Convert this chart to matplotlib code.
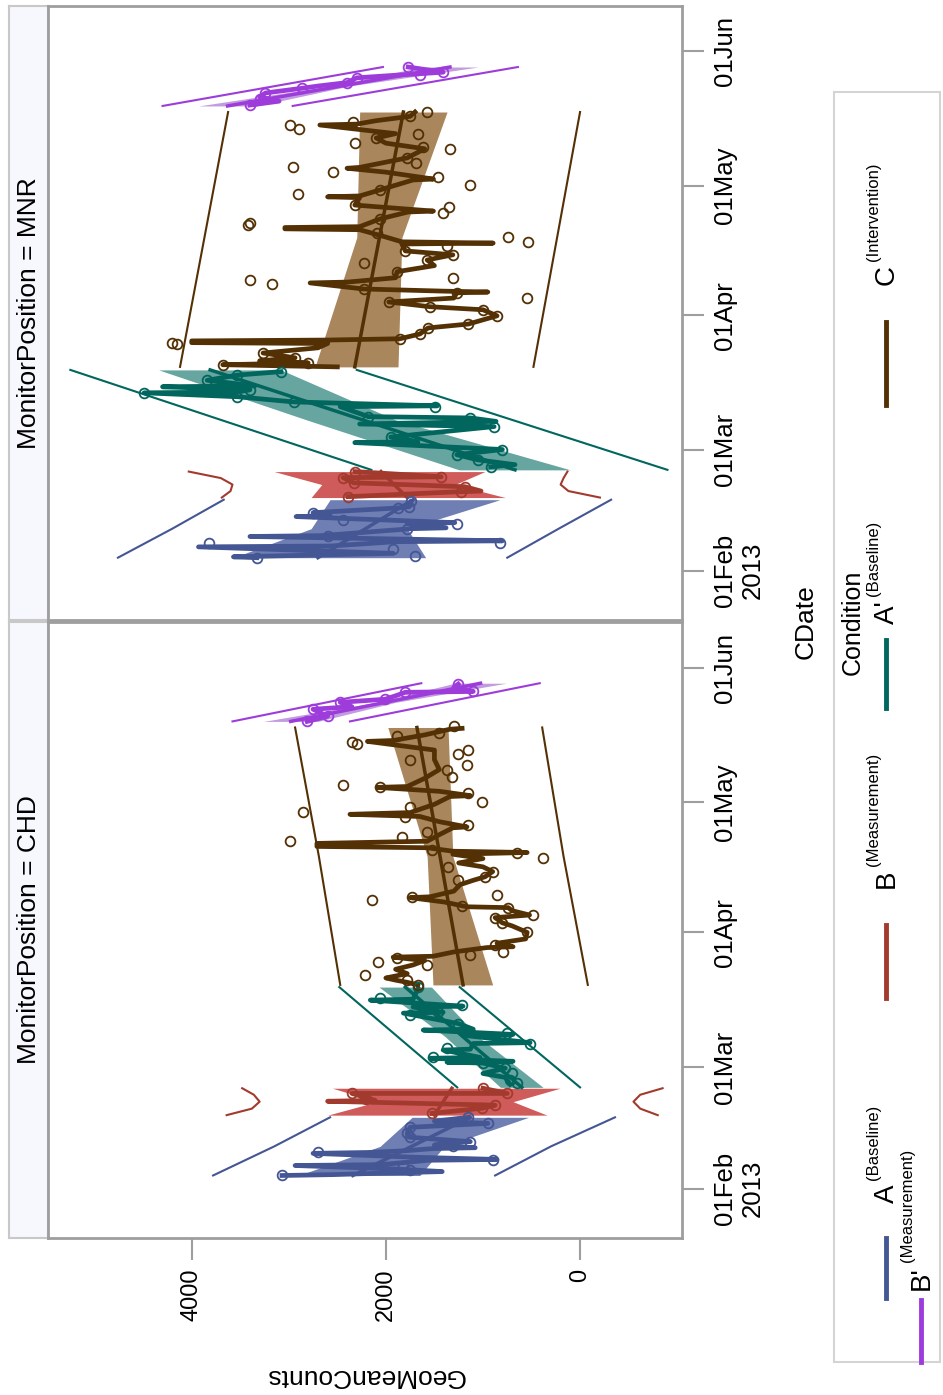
import numpy as np
import matplotlib
matplotlib.use('Agg')
import matplotlib.pyplot as plt
import matplotlib.dates as mdates
from matplotlib.lines import Line2D
from matplotlib.patches import Rectangle
import datetime as dt

plt.rcParams['font.family'] = ['Liberation Sans', 'DejaVu Sans']

# ---------------- data (day offsets from 2013-02-01, GeoMeanCounts) ----------------
tick_days = [0, 28, 59, 89, 120]
tick_labels = ['01Feb\n2013', '01Mar', '01Apr', '01May', '01Jun']
value_ticks = [0, 2000, 4000]
panels = ['MNR', 'CHD']
conditions = ['A', 'B', "A'", 'C', "B'"]
cond_notes = ['(Baseline)', '(Measurement)', '(Baseline)', '(Intervention)', '(Measurement)']
line_colors = ['#445694', '#A23A2E', '#01665E', '#543005', '#9D3CDB']
fill_colors = ['#6F7EB3', '#D05B5B', '#66A5A0', '#A9865B', '#C29BE0']

# ---- CHD ----
chd_A_fit_day = [3.0, 16.4]
chd_A_fit_val = [2340, 1130]
chd_A_ci_day = [3.0, 9.7, 16.4]
chd_A_ci_lo = [1650, 1400, 530]
chd_A_ci_hi = [2900, 2060, 1730]
chd_A_pi_day = [3.0, 9.7, 16.4]
chd_A_pi_lo = [875, 300, -360]
chd_A_pi_hi = [3780, 3150, 2575]
chd_A_pt_day = [3.0, 4.2, 5.3, 6.5, 8.3, 9.9, 10.6, 11.8, 12.7, 14.1, 15.0, 16.4]
chd_A_pt_val = [3070, 1750, 1820, 900, 2700, 1310, 1130, 1750, 1780, 1750, 950, 1150]
chd_A_ser_day = [3.0, 3.2, 3.5, 3.7, 3.9, 4.5, 5.3, 5.5, 6.0, 6.5, 6.7, 7.2, 8.1, 8.3, 8.7, 9.2, 9.4, 10.0,
                 10.6, 10.8, 11.8, 12.7, 14.1, 15.0, 15.5, 16.4]
chd_A_ser_val = [3070, 2540, 2100, 1750, 1420, 1900, 2935, 2060, 1800, 1575, 855, 1700, 2750, 2190, 1800,
                 1515, 1080, 1500, 1370, 1130, 1750, 1780, 1750, 950, 1500, 1150]

chd_B_fit_day = [16.9, 23.1]
chd_B_fit_val = [1500, 1320]
chd_B_ci_day = [16.9, 20.0, 23.1]
chd_B_ci_lo = [340, 690, 206]
chd_B_ci_hi = [2600, 2090, 2550]
chd_B_pi_day = [16.9, 18.4, 20.0, 21.6, 23.1]
chd_B_pi_lo = [-800, -620, -550, -620, -850]
chd_B_pi_hi = [3640, 3380, 3300, 3360, 3480]
chd_B_pt_day = [17.3, 18.5, 19.2, 20.6, 21.9, 21.9, 23.1]
chd_B_pt_val = [1525, 1010, 875, 2200, 2350, 750, 1000]
chd_B_ser_day = [17.3, 18.5, 19.2, 20.1, 20.3, 21.9, 21.9, 23.1]
chd_B_ser_val = [1525, 1010, 875, 2600, 2110, 2350, 750, 1000]

chd_Ap_fit_day = [23.3, 46.4]
chd_Ap_fit_val = [600, 1800]
chd_Ap_ci_day = [23.3, 35.0, 46.4]
chd_Ap_ci_lo = [380, 1050, 1530]
chd_Ap_ci_hi = [820, 1390, 2070]
chd_Ap_pi_day = [23.3, 46.4]
chd_Ap_pi_lo = [0, 1240]
chd_Ap_pi_hi = [1265, 2480]
chd_Ap_pt_day = [24.2, 25.0, 26.5, 27.7, 28.9, 30.3, 32.3, 33.4, 35.8, 38.0, 40.0, 40.6, 42.3, 44.0, 46.4]
chd_Ap_pt_val = [650, 720, 700, 770, 1000, 1515, 1370, 515, 750, 1255, 1750, 1460, 1215, 2060, 1670]
chd_Ap_ser_day = [24.0, 25.6, 26.5, 27.7, 28.9, 29.1, 29.3, 30.0, 30.2, 31.9, 32.1, 33.4, 33.6, 35.3, 35.5,
                  36.5, 36.7, 38.0, 40.4, 40.6, 41.8, 42.0, 43.4, 43.6, 46.0]
chd_Ap_ser_val = [720, 770, 1000, 770, 1000, 1370, 690, 1545, 1030, 1410, 1130, 1100, 515, 1205, 690,
                  1615, 1100, 1255, 1820, 1410, 1720, 1205, 2160, 1720, 1670]

chd_C_fit_day = [46.9, 106.2]
chd_C_fit_val = [1205, 1680]
chd_C_ci_day = [46.9, 76.5, 106.2]
chd_C_ci_lo = [900, 1310, 1360]
chd_C_ci_hi = [1515, 1575, 1980]
chd_C_pi_day = [46.9, 76.5, 106.2]
chd_C_pi_lo = [-80, 170, 390]
chd_C_pi_hi = [2470, 2690, 2935]
chd_C_pt_day = [104.2, 102.8, 102.4, 98.8, 105.0, 106.5, 101.0, 100.0, 97.5, 96.5, 94.7, 93.0, 92.4, 91.2,
                89.0, 86.8, 87.8, 85.5, 83.8, 80.0, 82.2, 81.0, 78.0, 77.4, 76.2, 74.1, 71.1, 71.8, 73.0,
                66.5, 67.2, 65.1, 67.7, 64.7, 62.4, 61.2, 63.0, 59.1, 53.8, 56.0, 54.5, 52.2, 53.1, 49.2,
                51.5, 48.0, 46.9]
chd_C_pt_val = [1885, 2350, 2300, 1750, 1450, 1300, 1150, 1255, 1165, 1370, 1320, 2440, 2060, 1150,
                1010, 2850, 1750, 1800, 1150, 2990, 1575, 1830, 1525, 650, 380, 1360, 1255, 980, 900,
                2140, 1730, 1215, 855, 740, 875, 800, 480, 545, 1130, 875, 790, 2080, 1885, 2210,
                1575, 1780, 1670]
chd_C_ser_day = [46.9, 47.5, 48.0, 48.5, 49.5, 50.5, 51.5, 52.5, 53.3, 53.5, 54.5, 55.5, 55.7, 56.5, 57.5,
                 59.0, 60.5, 61.2, 62.4, 63.0, 64.0, 64.7, 64.9, 66.0, 67.0, 67.2, 68.5, 70.0, 71.0, 71.8,
                 73.0, 74.1, 75.0, 76.0, 77.0, 77.4, 77.7, 78.5, 78.8, 79.5, 80.0, 81.5, 83.1, 83.3, 84.5,
                 85.7, 86.2, 86.6, 88.5, 90.3, 90.5, 91.5, 92.4, 92.6, 94.5, 96.5, 98.8, 101.0, 103.0,
                 103.2, 104.5, 105.8, 106.0]
chd_C_ser_val = [1670, 1780, 1900, 2000, 1780, 1900, 1720, 1600, 1925, 1515, 1300, 960, 690, 855, 560,
                 545, 700, 800, 875, 520, 700, 740, 1165, 1400, 1750, 1545, 1300, 1235, 1100, 980,
                 900, 1000, 1250, 1000, 1310, 545, 1310, 1575, 2710, 2710, 1575, 1450, 1310, 1165, 1450,
                 1650, 2370, 1750, 1500, 1340, 1130, 1450, 2090, 1780, 1600, 1450, 1500, 1500, 2190,
                 1925, 1600, 1340, 1215]

chd_Bp_fit_day = [107.6, 116.4]
chd_Bp_fit_val = [2980, 1025]
chd_Bp_ci_day = [107.6, 112.0, 116.4]
chd_Bp_ci_lo = [2700, 1900, 760]
chd_Bp_ci_hi = [3260, 2100, 1290]
chd_Bp_pi_day = [107.6, 116.4]
chd_Bp_pi_lo = [2370, 415]
chd_Bp_pi_hi = [3580, 1635]
chd_Bp_pt_day = [107.6, 108.8, 110.4, 112.0, 112.7, 114.3, 114.5, 116.2]
chd_Bp_pt_val = [2810, 2600, 2750, 2470, 2010, 1800, 1100, 1255]
chd_Bp_ser_day = [107.6, 108.8, 110.4, 111.0, 112.0, 112.7, 113.5, 114.3, 114.5, 115.5, 116.2]
chd_Bp_ser_val = [2810, 2600, 2750, 2350, 2470, 2010, 1900, 1800, 1100, 1300, 1255]

# ---- MNR ----
mnr_A_fit_day = [3.0, 16.4]
mnr_A_fit_val = [2700, 1720]
mnr_A_ci_day = [3.0, 9.7, 16.4]
mnr_A_ci_lo = [1590, 1780, 825]
mnr_A_ci_hi = [3570, 2770, 2575]
mnr_A_pi_day = [3.0, 9.7, 16.4]
mnr_A_pi_lo = [750, 220, -320]
mnr_A_pi_hi = [4760, 4200, 3670]
mnr_A_pt_day = [3.0, 3.5, 5.1, 6.5, 6.5, 8.0, 9.7, 10.9, 11.8, 13.4, 14.5, 14.8, 16.0]
mnr_A_pt_val = [3330, 1700, 1925, 3820, 825, 2600, 1780, 1270, 2440, 2750, 1875, 1760, 1740]
mnr_A_ser_day = [3.0, 3.2, 4.0, 5.5, 5.7, 6.7, 6.9, 7.9, 8.1, 9.7, 9.9, 10.9, 11.1, 12.5, 12.7, 13.4, 14.5, 14.8, 16.0]
mnr_A_ser_val = [3330, 3570, 1925, 3930, 2575, 1895, 800, 3400, 2660, 1740, 1380, 1780, 1290, 2925, 2575, 2750, 1875, 1760, 1740]

mnr_B_fit_day = [16.9, 22.9]
mnr_B_fit_val = [1780, 2050]
mnr_B_ci_day = [16.9, 19.9, 22.9]
mnr_B_ci_lo = [770, 1290, 980]
mnr_B_ci_hi = [2770, 2660, 3150]
mnr_B_pi_day = [16.9, 18.4, 19.9, 21.4, 22.9]
mnr_B_pi_lo = [-205, 120, 200, 170, 130]
mnr_B_pi_hi = [3690, 3600, 3580, 3700, 4030]
mnr_B_pt_day = [17.1, 18.2, 19.4, 20.3, 21.5, 21.7, 22.9]
mnr_B_pt_val = [2390, 1225, 1185, 2330, 2440, 1430, 2320]
mnr_B_ser_day = [17.1, 18.2, 18.4, 19.4, 20.3, 21.5, 21.7, 22.9]
mnr_B_ser_val = [2390, 1290, 1020, 1185, 2330, 2440, 1430, 2320]

mnr_Ap_fit_day = [23.3, 46.4]
mnr_Ap_fit_val = [670, 3810]
mnr_Ap_ci_day = [23.3, 34.8, 46.4]
mnr_Ap_ci_lo = [100, 1895, 3080]
mnr_Ap_ci_hi = [1245, 2810, 4340]
mnr_Ap_pi_day = [23.3, 46.4]
mnr_Ap_pi_lo = [-900, 2300]
mnr_Ap_pi_hi = [2150, 5250]
mnr_Ap_pt_day = [24.0, 25.6, 26.8, 28.0, 30.9, 33.3, 35.3, 35.6, 37.9, 39.0, 40.2, 41.1, 41.8, 44.0, 45.2, 46.0]
mnr_Ap_pt_val = [920, 1050, 1270, 800, 1950, 885, 1130, 2180, 1495, 2950, 3530, 4490, 3400, 3840, 3530, 3080]
mnr_Ap_ser_day = [24.0, 24.5, 25.6, 26.8, 28.0, 29.6, 29.8, 30.9, 33.3, 33.9, 34.5, 35.3, 35.6, 37.9, 38.1,
                  39.0, 40.2, 41.1, 41.3, 41.8, 42.5, 42.7, 44.0, 45.2, 46.0]
mnr_Ap_ser_val = [920, 670, 1050, 1270, 800, 2320, 1670, 1950, 885, 2270, 865, 1130, 2180, 2470, 1470,
                  2950, 3530, 4490, 3530, 3400, 4300, 3350, 3840, 3530, 3080]

mnr_C_fit_day = [47.1, 106.0]
mnr_C_fit_val = [2320, 1820]
mnr_C_ci_day = [47.1, 77.0, 106.0]
mnr_C_ci_lo = [1875, 1835, 1370]
mnr_C_ci_hi = [2730, 2300, 2270]
mnr_C_pi_day = [47.1, 106.0]
mnr_C_pi_lo = [480, 0]
mnr_C_pi_hi = [4120, 3625]
mnr_C_pt_day = [103.0, 102.0, 103.7, 98.8, 100.0, 105.0, 106.0, 101.0, 98.0, 95.4, 94.2, 97.5, 93.3, 92.1,
                91.0, 89.1, 87.0, 88.0, 84.5, 84.1, 82.7, 80.0, 80.3, 81.3, 78.0, 77.1, 76.0, 73.9, 75.0,
                73.0, 71.8, 71.1, 69.1, 67.7, 67.2, 66.3, 65.1, 64.2, 63.0, 62.1, 61.0, 60.3, 58.9, 57.0,
                56.1, 54.7, 53.6, 52.7, 52.4, 50.3, 49.2, 48.0, 47.6]
mnr_C_pt_val = [2990, 2890, 2340, 2320, 2100, 1750, 1575, 1670, 1620, 1780, 1690, 1340, 2960, 2540,
                1460, 1130, 2910, 2060, 2320, 1350, 1410, 3420, 3400, 2060, 2090, 740, 535, 1800, 1370,
                1310, 1575, 2230, 1885, 1310, 3400, 3170, 2230, 1270, 545, 1970, 1545, 1000, 855, 1150,
                1565, 1650, 1855, 4200, 4150, 3265, 2935, 2800, 3680]
mnr_C_ser_day = [47.1, 47.6, 48.0, 48.5, 49.2, 50.3, 51.5, 52.5, 52.7, 53.1, 53.3, 53.6, 54.7, 56.1, 57.0,
                 58.9, 60.3, 61.0, 62.1, 63.0, 64.2, 64.4, 64.6, 65.1, 66.5, 66.7, 67.7, 69.1, 70.5, 71.8,
                 73.0, 73.9, 75.5, 75.7, 76.0, 77.1, 78.8, 79.0, 79.3, 79.5, 81.3, 82.9, 83.1, 84.5, 86.2,
                 86.4, 86.6, 88.0, 90.3, 90.5, 92.1, 93.0, 93.2, 95.4, 97.5, 98.8, 100.0, 101.0, 103.0,
                 103.2, 104.0, 105.0, 106.0]
mnr_C_ser_val = [2500, 3680, 2800, 3300, 2935, 3265, 2700, 2600, 4000, 4000, 2600, 1855, 1650, 1565, 1150,
                 855, 1000, 1545, 1970, 1300, 1270, 950, 1400, 2230, 2780, 2390, 1900, 1885, 1500, 1575,
                 1310, 1800, 1835, 895, 1835, 2000, 2270, 3040, 3040, 2270, 2060, 1770, 1510, 2320, 2270,
                 2600, 2270, 2060, 1720, 1510, 2000, 2400, 2270, 1780, 1600, 2000, 2100, 1900, 2680,
                 2300, 2100, 1750, 1700]

mnr_Bp_fit_day = [107.4, 116.4]
mnr_Bp_fit_val = [3630, 1340]
mnr_Bp_ci_day = [107.4, 112.0, 116.4]
mnr_Bp_ci_lo = [3330, 2380, 1050]
mnr_Bp_ci_hi = [3930, 2580, 1630]
mnr_Bp_pi_day = [107.4, 116.4]
mnr_Bp_pi_lo = [2960, 640]
mnr_Bp_pi_hi = [4300, 2030]
mnr_Bp_pt_day = [107.6, 109.0, 110.4, 111.5, 112.8, 113.9, 114.5, 115.2, 116.4]
mnr_Bp_pt_val = [3400, 3300, 3240, 2860, 2400, 2300, 1650, 1410, 1770]
mnr_Bp_ser_day = [107.6, 108.5, 109.5, 110.4, 111.5, 112.0, 112.8, 113.9, 114.5, 115.2, 116.4]
mnr_Bp_ser_val = [3400, 3100, 3300, 3240, 2860, 2700, 2400, 2300, 1900, 1410, 1770]

# ---------------- assemble ----------------
def pack(p):
    g = globals()
    out = []
    for key in ['A', 'B', 'Ap', 'C', 'Bp']:
        pre = f'{p}_{key}_'
        out.append({k: np.asarray(g[pre + k], float) for k in
                    ['fit_day', 'fit_val', 'ci_day', 'ci_lo', 'ci_hi', 'pi_day', 'pi_lo', 'pi_hi',
                     'pt_day', 'pt_val', 'ser_day', 'ser_val']})
    return out

data = {'MNR': pack('mnr'), 'CHD': pack('chd')}

# ---------------- figure ----------------
W, H = 943, 1395
fig = plt.figure(figsize=(W / 100, H / 100), dpi=100)
BASE = mdates.date2num(dt.datetime(2013, 2, 1))

def fx(px):
    return px / W

def fy(py):
    return 1 - py / H

def add_axes_px(x0, y0, x1, y1):
    return fig.add_axes([x0 / W, 1 - y1 / H, (x1 - x0) / W, (y1 - y0) / H])

AX_GRAY = '#9e9e9e'
panel_px = {'MNR': (6, 620), 'CHD': (622, 1238)}

for p in panels:
    top, bot = panel_px[p]
    sx = add_axes_px(9, top, 48, bot)
    sx.set_facecolor('#f6f8fe')
    sx.set_xticks([]); sx.set_yticks([])
    for s in sx.spines.values():
        s.set_color('#c8c8c8'); s.set_linewidth(1.5)
    sx.text(0.52, 0.5, f'MonitorPosition = {p}', rotation=90, ha='center', va='center',
            transform=sx.transAxes, fontsize=19)

    ax = add_axes_px(48, top, 682, bot)
    for i, c in enumerate(data[p]):
        lc, fc = line_colors[i], fill_colors[i]
        ax.fill_betweenx(BASE + c['ci_day'], c['ci_lo'], c['ci_hi'], color=fc, lw=0, zorder=1)
        ax.plot(c['pi_lo'], BASE + c['pi_day'], color=lc, lw=1.5, zorder=2)
        ax.plot(c['pi_hi'], BASE + c['pi_day'], color=lc, lw=1.5, zorder=2)
        ax.plot(c['fit_val'], BASE + c['fit_day'], color=lc, lw=2.5, zorder=3)
        ax.plot(c['ser_val'], BASE + c['ser_day'], color=lc, lw=3.4, zorder=4)
        ax.plot(c['pt_val'], BASE + c['pt_day'], 'o', mfc='none', mec=lc, ms=7, mew=1.3, zorder=5)

    ax.set_xlim(5480, -1050)
    ax.set_ylim(BASE - 11.4, BASE + 130.5)
    ax.yaxis.tick_right()
    ax.set_yticks(BASE + np.array(tick_days, float))
    ax.set_yticklabels(tick_labels, rotation=90, va='center', ha='left', fontsize=18.5,
                       multialignment='center')
    ax.tick_params(axis='y', length=16, width=1.5, color=AX_GRAY, pad=6)
    if p == 'CHD':
        ax.set_xticks(value_ticks)
        ax.set_xticklabels([str(v) for v in value_ticks], rotation=90, fontsize=17)
        ax.tick_params(axis='x', length=16, width=1.5, color=AX_GRAY, pad=6)
    else:
        ax.set_xticks([])
    for s in ax.spines.values():
        s.set_color(AX_GRAY); s.set_linewidth(2)

fig.text(fx(806), fy(622), 'CDate', rotation=90, ha='center', va='center', fontsize=19)
fig.text(fx(365), fy(1376), 'GeoMeanCounts', rotation=180, ha='center', va='center', fontsize=19)

# ---------------- legend ----------------
fig.add_artist(Rectangle((fx(834), fy(1362)), fx(940) - fx(834), fy(92) - fy(1362),
                         transform=fig.transFigure, fill=False, ec='#d4d4d4', lw=1.5))
fig.text(fx(853), fy(622), 'Condition', rotation=90, ha='center', va='center', fontsize=18)

renderer = fig.canvas.get_renderer()
leg_x = [886, 886, 886, 886, 921]
leg_line = [(1298, 1238), (998, 925), (708, 640), (405, 322), (1362, 1300)]
leg_text_bottom = [1203, 888, 624, 285, 1290]
for i, cond in enumerate(conditions):
    x = leg_x[i]
    y0, y1 = leg_line[i]
    fig.add_artist(Line2D([fx(x), fx(x)], [fy(y0), fy(y1)], color=line_colors[i], lw=3.5,
                          transform=fig.transFigure))
    t = fig.text(fx(x + 1), fy(leg_text_bottom[i]), cond, rotation=90, ha='center', va='bottom',
                 fontsize=20)
    bb = t.get_window_extent(renderer)
    top_px = H - bb.y1
    fig.text(fx(x - 13), fy(top_px - 4), cond_notes[i], rotation=90, ha='center', va='bottom',
             fontsize=12)

fig.savefig('out.png', dpi=100)
